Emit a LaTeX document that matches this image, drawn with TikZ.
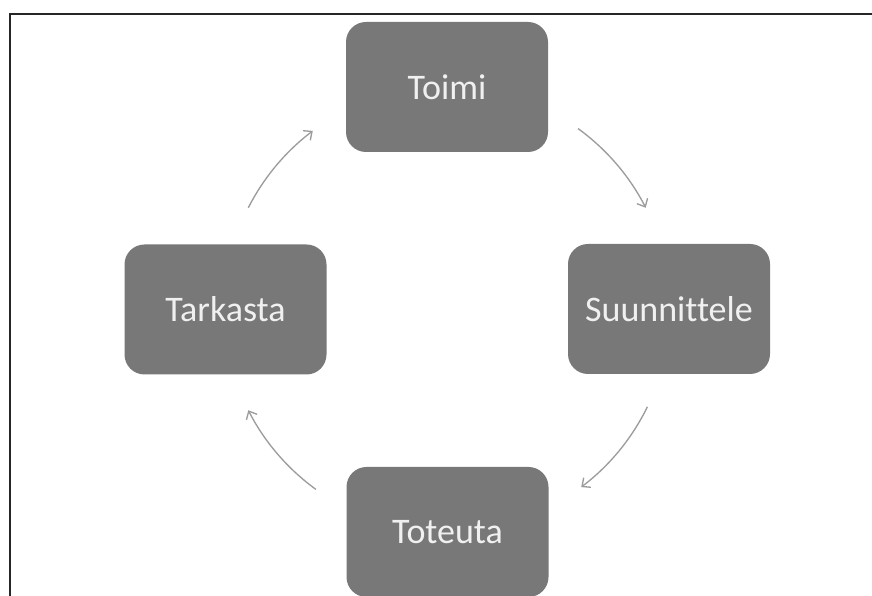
\documentclass[tikz,border=0pt]{standalone}
\usepackage{fontspec}
\setmainfont[Ligatures={NoCommon}]{Carlito}
\usetikzlibrary{arrows.meta}
\definecolor{boxgray}{HTML}{787878}
\definecolor{arrgray}{HTML}{9C9C9C}
\tikzset{
  stepbox/.style={draw=none, fill=boxgray, rounded corners=15pt,
    minimum width=151.5pt, minimum height=97.5pt, inner sep=0pt,
    text=white!94!black, font=\fontsize{27}{31}\selectfont},
  cyclearrow/.style={draw=arrgray, line width=1pt,
    -{Straight Barb[length=5pt,width=9pt,line width=1pt]}},
  frameline/.style={draw=black!85, line width=1.8pt}
}
\begin{document}
\begin{tikzpicture}[x=0.75pt,y=0.75pt]
\useasboundingbox (0,0) rectangle (872,596);
\fill[white] (0,0) rectangle (872,596);
\coordinate (fa) at (10,-20);
\coordinate (fb) at (10,582);
\coordinate (fc) at (890,582);
\draw[frameline] (fa) -- (fb) -- (fc);

\node[stepbox] (toimi) at (447,509) {Toimi};
\node[stepbox] (suun) at (669,287) {Suunnittele};
\node[stepbox] (tot) at (447.5,64) {Toteuta};
\node[stepbox] (tark) at (225.5,286.5) {Tarkasta};

\coordinate (ctr) at (447,287);
\draw[cyclearrow] ([shift={(153:223)}]ctr) arc[start angle=153, end angle=127, radius=223];
\draw[cyclearrow] ([shift={(54:223)}]ctr) arc[start angle=54, end angle=27, radius=223];
\draw[cyclearrow] ([shift={(-26:223)}]ctr) arc[start angle=-26, end angle=-53, radius=223];
\draw[cyclearrow] ([shift={(-126:223)}]ctr) arc[start angle=-126, end angle=-153, radius=223];
\end{tikzpicture}
\end{document}
